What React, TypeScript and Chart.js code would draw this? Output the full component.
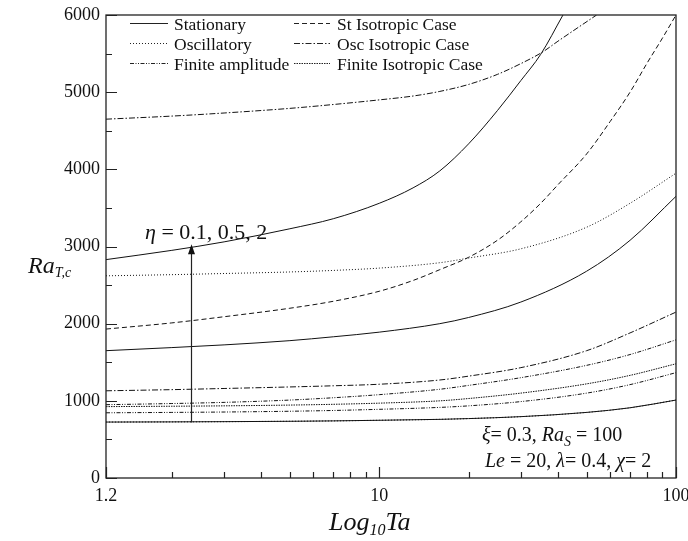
import React, { useEffect, useRef } from "react";
import { Chart, registerables } from "chart.js";

Chart.register(...registerables);

const FONT = "'Liberation Serif', 'Times New Roman', Times, serif";

// shared abscissa (Ta) grid
const xGrid = [1.2, 2, 3, 5, 7, 10, 16, 20, 30, 50, 70, 100];

// curves leaving through the top of the frame
const statHighX = [1.2, 2, 3, 5, 7, 10, 13, 16, 20, 25, 30, 35, 41.6];
const statHighY = [2830, 2950, 3060, 3230, 3360, 3560, 3760, 3980, 4330, 4760, 5150, 5490, 6000];

const oscIsoHighX = [1.2, 2, 3, 5, 7, 10, 13, 16, 20, 25, 30, 35.5, 40, 54];
const oscIsoHighY = [4650, 4690, 4730, 4790, 4840, 4900, 4950, 5010, 5100, 5230, 5370, 5520, 5660, 6000];

const stIsoX = [1.2, 2, 3, 5, 7, 10, 13, 16, 20, 25, 30, 35, 40, 50, 60, 70, 80, 90, 100];
const stIsoY = [1930, 2010, 2090, 2200, 2290, 2420, 2560, 2700, 2860, 3080, 3320, 3560, 3800, 4200, 4620, 5000, 5380, 5700, 6000];

// curves on the shared grid
const oscHigh = [2620, 2635, 2650, 2670, 2690, 2720, 2790, 2850, 2970, 3250, 3560, 3950];
const statMid = [1650, 1690, 1725, 1780, 1830, 1890, 2000, 2080, 2280, 2680, 3080, 3650];
const oscIsoLow = [1130, 1145, 1160, 1180, 1195, 1215, 1270, 1320, 1430, 1650, 1880, 2150];
const finiteLowA = [950, 965, 980, 1010, 1040, 1080, 1150, 1200, 1300, 1460, 1600, 1790];
const finiteIsoLow = [925, 930, 935, 945, 955, 970, 1000, 1030, 1100, 1220, 1330, 1480];
const finiteLowB = [845, 850, 855, 865, 875, 890, 915, 935, 990, 1100, 1210, 1365];
const statLow = [725, 727, 730, 735, 740, 748, 760, 770, 795, 850, 910, 1010];
const oscLow = [725, 727, 730, 735, 740, 748, 760, 770, 795, 850, 910, 1010];

// axes
const xTickLabels = [1.2, 10, 100];
const xMinorTicks = [2, 3, 4, 5, 6, 7, 8, 9, 20, 30, 40, 50, 60, 70, 80, 90];
const yMajorTicks = [0, 1000, 2000, 3000, 4000, 5000, 6000];
const yMinorTicks = [500, 1500, 2500, 3500, 4500, 5500];

// arrow annotation (data coordinates)
const arrowX = 2.32;
const arrowFrom = 720;
const arrowTo = 3030;

const SOLID: number[] = [];
const DOTTED = [1, 2];
const DASHED = [5, 3];
const DASHDOT = [6, 2, 1.5, 2];
const DASHDOTDOT = [4, 1.5, 1, 1.5, 1, 1.5];
const FINEDOT = [1.5, 1];

const legendItems = [
  { label: "Stationary", dash: SOLID, col: 0, row: 0 },
  { label: "Oscillatory", dash: DOTTED, col: 0, row: 1 },
  { label: "Finite amplitude", dash: DASHDOTDOT, col: 0, row: 2 },
  { label: "St Isotropic Case", dash: DASHED, col: 1, row: 0 },
  { label: "Osc Isotropic Case", dash: DASHDOT, col: 1, row: 1 },
  { label: "Finite Isotropic Case", dash: FINEDOT, col: 1, row: 2 },
];

const pts = (xs: number[], ys: number[]) => xs.map((x, i) => ({ x, y: ys[i] }));

function ds(label: string, data: { x: number; y: number }[], dash: number[]) {
  return {
    label,
    data,
    borderColor: "#111",
    borderWidth: 1,
    borderDash: dash,
    pointRadius: 0,
    fill: false,
    cubicInterpolationMode: "monotone" as const,
  };
}

type Run = { t: string; italic?: boolean; size: number; dy?: number };
function drawRuns(ctx: CanvasRenderingContext2D, x: number, y: number, runs: Run[]) {
  for (const r of runs) {
    ctx.font = `${r.italic ? "italic " : ""}${r.size}px ${FONT}`;
    ctx.fillText(r.t, x, y + (r.dy || 0));
    x += ctx.measureText(r.t).width;
  }
}

const decor = {
  id: "decor",
  afterDraw(chart: any) {
    const ctx: CanvasRenderingContext2D = chart.ctx;
    const a = chart.chartArea;
    const xs = chart.scales.x;
    const ys = chart.scales.y;
    ctx.save();
    ctx.strokeStyle = "#222";
    ctx.fillStyle = "#111";
    ctx.lineWidth = 1.3;
    ctx.setLineDash([]);
    ctx.strokeRect(a.left, a.top, a.right - a.left, a.bottom - a.top);

    // ticks (inward)
    ctx.lineWidth = 1.2;
    ctx.beginPath();
    for (const v of yMajorTicks) {
      const p = Math.round(ys.getPixelForValue(v)) + 0.5;
      ctx.moveTo(a.left, p);
      ctx.lineTo(a.left + 11, p);
    }
    for (const v of yMinorTicks) {
      const p = Math.round(ys.getPixelForValue(v)) + 0.5;
      ctx.moveTo(a.left, p);
      ctx.lineTo(a.left + 6, p);
    }
    for (const v of xTickLabels) {
      const p = Math.round(xs.getPixelForValue(v)) + 0.5;
      ctx.moveTo(p, a.bottom);
      ctx.lineTo(p, a.bottom - 11);
    }
    for (const v of xMinorTicks) {
      const p = Math.round(xs.getPixelForValue(v)) + 0.5;
      ctx.moveTo(p, a.bottom);
      ctx.lineTo(p, a.bottom - 6);
    }
    ctx.stroke();

    // legend
    ctx.lineWidth = 1;
    ctx.textBaseline = "alphabetic";
    ctx.textAlign = "left";
    const colLine = [[130, 168], [294, 330]];
    const colText = [174, 337];
    const rowBase = [30, 50, 70];
    for (const it of legendItems) {
      const yb = rowBase[it.row];
      ctx.setLineDash(it.dash);
      ctx.beginPath();
      ctx.moveTo(colLine[it.col][0], yb - 6.5);
      ctx.lineTo(colLine[it.col][1], yb - 6.5);
      ctx.stroke();
      ctx.setLineDash([]);
      ctx.font = `17.5px ${FONT}`;
      ctx.fillText(it.label, colText[it.col], yb);
    }

    // arrow
    const ax = Math.round(xs.getPixelForValue(arrowX)) + 0.5;
    const ay0 = ys.getPixelForValue(arrowFrom);
    const ay1 = ys.getPixelForValue(arrowTo);
    ctx.lineWidth = 1.2;
    ctx.beginPath();
    ctx.moveTo(ax, ay0);
    ctx.lineTo(ax, ay1 + 8);
    ctx.stroke();
    ctx.beginPath();
    ctx.moveTo(ax, ay1);
    ctx.lineTo(ax - 3.5, ay1 + 10);
    ctx.lineTo(ax + 3.5, ay1 + 10);
    ctx.closePath();
    ctx.fill();

    drawRuns(ctx, 145, 239, [
      { t: "η", italic: true, size: 22 },
      { t: " = 0.1, 0.5, 2", size: 22 },
    ]);

    // parameter text
    drawRuns(ctx, 482, 441, [
      { t: "ξ", italic: true, size: 20 },
      { t: "= 0.3, ", size: 20 },
      { t: "Ra", italic: true, size: 20 },
      { t: "S", italic: true, size: 14, dy: 5 },
      { t: " = 100", size: 20 },
    ]);
    drawRuns(ctx, 485, 467, [
      { t: "Le", italic: true, size: 20 },
      { t: " = 20, ", size: 20 },
      { t: "λ", italic: true, size: 20 },
      { t: "= 0.4, ", size: 20 },
      { t: "χ", italic: true, size: 20 },
      { t: "= 2", size: 20 },
    ]);

    // axis titles
    drawRuns(ctx, 329, 530, [
      { t: "Log", italic: true, size: 26 },
      { t: "10", italic: true, size: 16, dy: 5 },
      { t: "Ta", italic: true, size: 26 },
    ]);
    drawRuns(ctx, 28, 273, [
      { t: "Ra", italic: true, size: 24 },
      { t: "T,c", italic: true, size: 14, dy: 4 },
    ]);
    ctx.restore();
  },
};

export default function App() {
  const ref = useRef<HTMLCanvasElement | null>(null);
  useEffect(() => {
    if (!ref.current) return;
    const chart = new Chart(ref.current, {
      type: "line",
      data: {
        datasets: [
          ds("Stationary η=2", pts(statHighX, statHighY), SOLID),
          ds("Osc Isotropic high", pts(oscIsoHighX, oscIsoHighY), DASHDOT),
          ds("St Isotropic", pts(stIsoX, stIsoY), DASHED),
          ds("Oscillatory high", pts(xGrid, oscHigh), DOTTED),
          ds("Stationary mid", pts(xGrid, statMid), SOLID),
          ds("Osc Isotropic low", pts(xGrid, oscIsoLow), DASHDOT),
          ds("Finite amplitude A", pts(xGrid, finiteLowA), DASHDOTDOT),
          ds("Finite Isotropic low", pts(xGrid, finiteIsoLow), FINEDOT),
          ds("Finite amplitude B", pts(xGrid, finiteLowB), DASHDOTDOT),
          ds("Stationary low", pts(xGrid, statLow), SOLID),
          ds("Oscillatory low", pts(xGrid, oscLow), DOTTED),
        ],
      },
      options: {
        responsive: false,
        animation: false,
        devicePixelRatio: 1,
        layout: { padding: { left: 0, top: 15, right: 12, bottom: 0 } },
        plugins: { legend: { display: false }, tooltip: { enabled: false } },
        scales: {
          x: {
            type: "logarithmic",
            min: 1.2,
            max: 100,
            grid: { display: false, drawTicks: false },
            border: { display: false },
            afterBuildTicks: (s: any) => {
              s.ticks = xTickLabels.map((v) => ({ value: v }));
            },
            afterFit: (s: any) => {
              s.height = 63;
              s.paddingLeft = 0;
              s.paddingRight = 0;
            },
            ticks: {
              autoSkip: false,
              maxRotation: 0,
              padding: 7,
              color: "#111",
              font: { family: FONT, size: 18 },
              callback: (v: any) => String(v),
            },
          },
          y: {
            type: "linear",
            min: 0,
            max: 6000,
            grid: { display: false, drawTicks: false },
            border: { display: false },
            afterFit: (s: any) => {
              s.width = 106;
              s.paddingTop = 0;
              s.paddingBottom = 0;
            },
            ticks: {
              stepSize: 1000,
              padding: 6,
              color: "#111",
              font: { family: FONT, size: 18 },
              callback: (v: any) => String(v),
            },
          },
        },
      },
      plugins: [decor],
    } as any);
    return () => chart.destroy();
  }, []);
  return (
    <div style={{ position: "absolute", left: 0, top: 0, width: 688, height: 541, background: "#fff" }}>
      <canvas ref={ref} width={688} height={541} style={{ display: "block" }} />
    </div>
  );
}
